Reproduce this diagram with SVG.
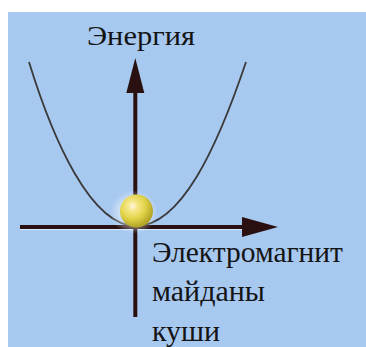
<svg xmlns="http://www.w3.org/2000/svg" width="366" height="347" viewBox="0 0 366 347">
  <defs>
    <radialGradient id="ballFill" cx="0.38" cy="0.35" r="0.7">
      <stop offset="0" stop-color="#fff6e8"/>
      <stop offset="0.18" stop-color="#f8e890"/>
      <stop offset="0.55" stop-color="#e2d448"/>
      <stop offset="1" stop-color="#a89a20"/>
    </radialGradient>
    <radialGradient id="halo" cx="0.5" cy="0.5" r="0.5">
      <stop offset="0" stop-color="#ffffff" stop-opacity="0.9"/>
      <stop offset="0.6" stop-color="#ffffff" stop-opacity="0.45"/>
      <stop offset="1" stop-color="#ffffff" stop-opacity="0"/>
    </radialGradient>
  </defs>

  <!-- white page with blue panel -->
  <rect x="0" y="0" width="366" height="347" fill="#ffffff"/>
  <rect x="8" y="12" width="358" height="335" fill="#a7c8ef"/>

  <!-- potential well -->
  <g id="well" stroke="#3a3a3a" stroke-width="1.8" fill="none">
    <path d="M29,62 C53,140 91,226 136,226"/>
    <path d="M136,226 C181,226 217,148 246,62"/>
  </g>

  <!-- coordinate axes -->
  <g id="connectors" fill="#2a1010">
    <line x1="20" y1="229.6" x2="242" y2="229.6" stroke="#d6ecff" stroke-width="1"/>
    <line x1="20" y1="227" x2="244" y2="227" stroke="#2a1010" stroke-width="4"/>
    <polygon points="242,217 278,227 242,237"/>
    <line x1="135.3" y1="90" x2="135.3" y2="317" stroke="#2a1010" stroke-width="4"/>
    <polygon points="126.3,93 135.3,58 144.3,93"/>
  </g>

  <!-- particle resting at the bottom of the well -->
  <g id="particle">
    <ellipse cx="134" cy="212" rx="24" ry="22" fill="url(#halo)"/>
    <circle cx="136.5" cy="211" r="16.5" fill="url(#ballFill)"/>
  </g>

  <!-- labels -->
  <g id="energy-label">
    <text x="87" y="45" font-family="Liberation Serif" font-size="28" fill="#141414" textLength="108" lengthAdjust="spacingAndGlyphs">Энергия</text>
  </g>
  <g id="field-label">
    <text x="152" y="262" font-family="Liberation Serif" font-size="29" fill="#141414" textLength="191" lengthAdjust="spacingAndGlyphs">Электромагнит</text>
    <text x="152" y="301" font-family="Liberation Serif" font-size="29" fill="#141414" textLength="113" lengthAdjust="spacingAndGlyphs">майданы</text>
    <text x="152" y="341" font-family="Liberation Serif" font-size="29" fill="#141414" textLength="68" lengthAdjust="spacingAndGlyphs">куши</text>
  </g>
</svg>
